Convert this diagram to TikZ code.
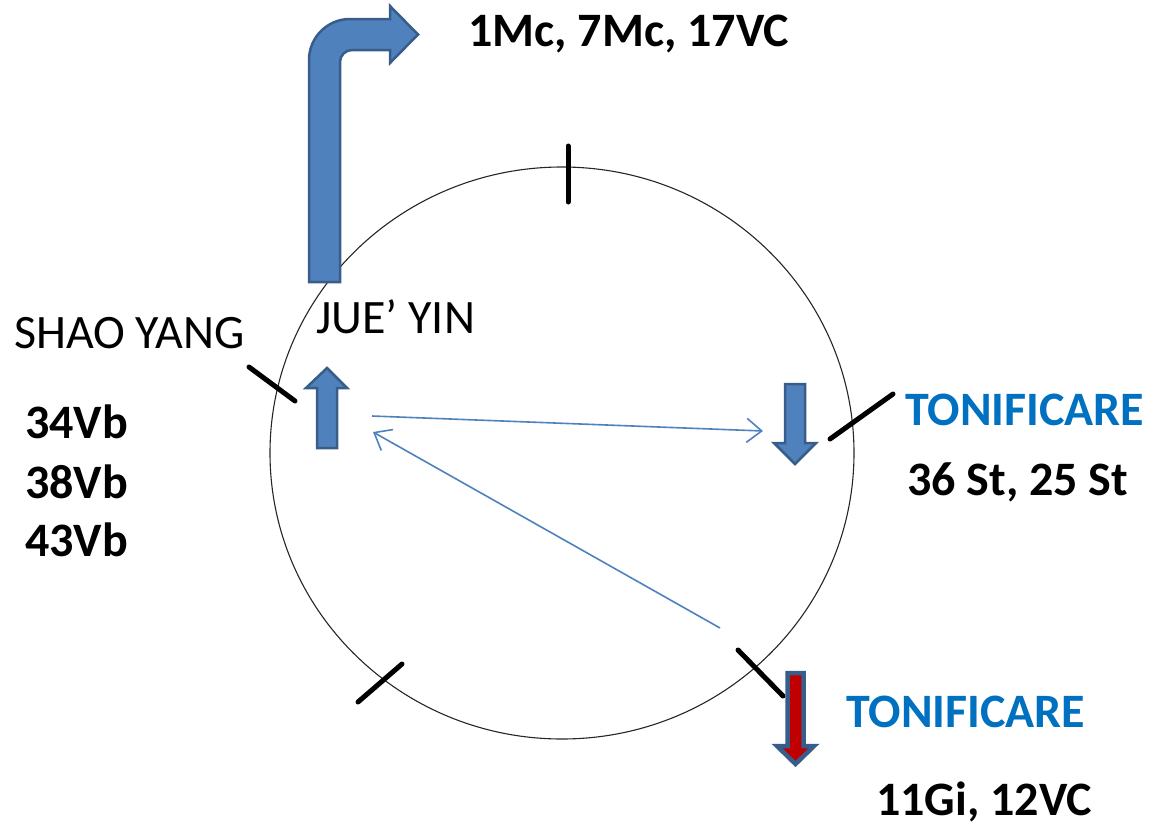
\documentclass[tikz,border=0pt]{standalone}
\usepackage{fontspec}
\setmainfont{Carlito}
\usetikzlibrary{arrows.meta}
\definecolor{arrfill}{HTML}{4F81BD}
\definecolor{arrline}{HTML}{385D8A}
\definecolor{txtblue}{HTML}{0070C0}
\definecolor{darkred}{HTML}{C00000}
\tikzset{
  lbl/.style={anchor=base west, inner sep=0pt, font=\fontsize{48}{54}\selectfont},
  lblb/.style={lbl, font=\fontsize{48}{54}\selectfont\bfseries},
  blockarrow/.style={fill=arrfill, draw=arrline, line width=2.5pt, line join=miter},
  tickmark/.style={line width=5pt, black, line cap=round},
  connector/.style={draw=arrfill, line width=1.6pt, -{Straight Barb[length=15pt,width=24pt,line width=1.6pt]}}
}
\begin{document}
\begin{tikzpicture}[x=1pt,y=-1pt]
\useasboundingbox (0,0) rectangle (1149,827);
% circle
\draw[line width=1.1pt, black!85] (562,453) ellipse [x radius=292, y radius=286];
% ticks
\draw[tickmark] (568,146) -- (568,202);
\draw[tickmark] (249,367) -- (295,401);
\draw[tickmark] (830,439) -- (893,394);
\draw[tickmark] (358,702) -- (402,664);
\draw[tickmark] (738,650) -- (783,696);
% bent arrow
\draw[blockarrow] (309,282) -- (309,60) arc[start angle=180, end angle=270, radius=41]
  -- (390,19) -- (390,6) -- (418,34.5) -- (390,63) -- (390,50) -- (352,50)
  arc[start angle=270, end angle=180, radius=12] -- (340,282) -- cycle;
% up arrow left
\draw[blockarrow] (317,448) -- (317,388) -- (306,388) -- (327,368) -- (347,388) -- (337,388) -- (337,448) -- cycle;
% down arrow right
\draw[blockarrow] (785,384) -- (785,443) -- (774,443) -- (795,464) -- (816,443) -- (805,443) -- (805,384) -- cycle;
% red down arrow
\draw[fill=darkred, draw=arrline, line width=4.5pt, line join=miter] (787.5,673) -- (787.5,746) -- (777,746) -- (795.5,764) -- (814,746) -- (803.5,746) -- (803.5,673) -- cycle;
% connectors
\coordinate (c1s) at (372,416);
\coordinate (c1e) at (763,431);
\coordinate (c2s) at (720,628);
\coordinate (c2e) at (373,432);
\draw[connector] (c1s) -- (c1e);
\draw[connector] (c2s) -- (c2e);
% labels
\node[lblb] (top) at (468,46) {1Mc, 7Mc, 17VC};
\node[lbl] (shao) at (14,348) {SHAO YANG};
\node[lbl] (jue) at (316,333) {JUE’ YIN};
\node[lblb] (v34) at (25,438) {34Vb};
\node[lblb] (v38) at (25,498) {38Vb};
\node[lblb] (v43) at (25,556) {43Vb};
\node[lblb, text=txtblue] (ton1) at (905,425) {TONIFICARE};
\node[lblb] (st) at (907,495) {36 St, 25 St};
\node[lblb, text=txtblue] (ton2) at (846,727) {TONIFICARE};
\node[lblb] (gi) at (876,815) {11Gi, 12VC};
\end{tikzpicture}
\end{document}
